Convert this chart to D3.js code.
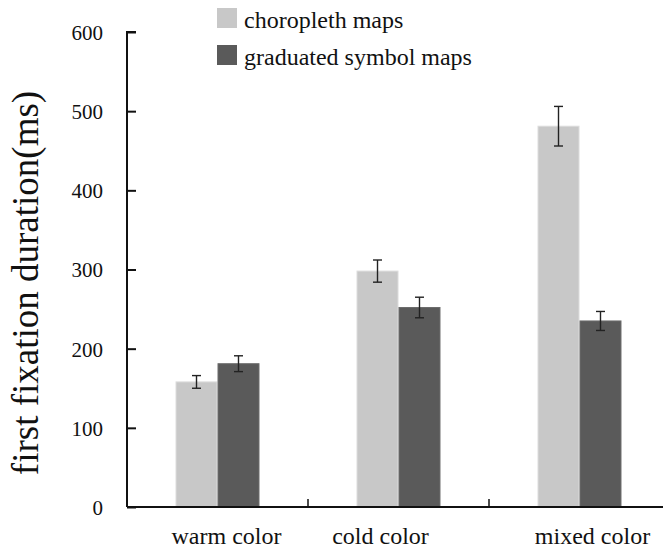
<!DOCTYPE html>
<html>
<head>
<meta charset="utf-8">
<script src="https://cdn.jsdelivr.net/npm/d3@7"></script>
<style>
  body { margin: 0; background: #fff; }
  svg text { font-family: 'Liberation Serif', 'DejaVu Serif', serif; fill: #111; }
</style>
</head>
<body>
<script>
// data
var categories = ["warm color", "cold color", "mixed color"];
var series = ["choropleth maps", "graduated symbol maps"];
var choropleth = [158, 298, 481];
var choroplethErr = [8, 14, 25];
var graduated = [181, 252, 235];
var graduatedErr = [10, 13, 12];
var yTicks = [0, 100, 200, 300, 400, 500, 600];

var colors = { choropleth: "#c8c8c8", graduated: "#5a5a5a" };
var strokes = { choropleth: "#dcdcdc", graduated: "#6c6c6c" };
var serif = "'Liberation Serif', 'DejaVu Serif', serif";

var width = 663, height = 549;
var margin = { top: 32, left: 127, bottom: 42 };

var rows = categories.map(function(c, i) {
  return { cat: c,
           vals: [ { key: "choropleth", v: choropleth[i], e: choroplethErr[i] },
                   { key: "graduated", v: graduated[i], e: graduatedErr[i] } ] };
});

// scales
var x = d3.scaleBand()
  .domain(categories)
  .range([margin.left, margin.left + 3 * 181])
  .paddingInner(0.536)
  .paddingOuter(0.268);

var xSub = d3.scaleBand()
  .domain(["choropleth", "graduated"])
  .range([0, x.bandwidth()]);

var y = d3.scaleLinear()
  .domain([0, 600])
  .range([height - margin.bottom, margin.top]);

var svg = d3.select("body")
  .append("svg")
  .attr("width", width)
  .attr("height", height);

// bars
var group = svg.append("g")
  .selectAll("g")
  .data(rows)
  .enter()
  .append("g")
  .attr("transform", d => `translate(${x(d.cat)},0)`);

group.selectAll("rect")
  .data(d => d.vals)
  .enter()
  .append("rect")
  .attr("x", d => xSub(d.key) + 0.5)
  .attr("y", d => y(d.v))
  .attr("width", xSub.bandwidth() - 1)
  .attr("height", d => y(0) - y(d.v))
  .style("fill", d => colors[d.key])
  .style("stroke", d => strokes[d.key])
  .style("stroke-width", 1);

// error bars
var err = group.selectAll("g.err")
  .data(d => d.vals)
  .enter()
  .append("g")
  .attr("class", "err")
  .style("stroke", "#222")
  .style("stroke-width", 1.4);

var cx = d => xSub(d.key) + xSub.bandwidth() / 2;
err.append("line")
  .attr("x1", cx).attr("x2", cx)
  .attr("y1", d => y(d.v + d.e)).attr("y2", d => y(d.v - d.e));
err.append("line")
  .attr("x1", d => cx(d) - 4.5).attr("x2", d => cx(d) + 4.5)
  .attr("y1", d => y(d.v + d.e)).attr("y2", d => y(d.v + d.e));
err.append("line")
  .attr("x1", d => cx(d) - 4.5).attr("x2", d => cx(d) + 4.5)
  .attr("y1", d => y(d.v - d.e)).attr("y2", d => y(d.v - d.e));

// y axis
var yAxis = g => g
  .attr("transform", `translate(${margin.left},0)`)
  .call(d3.axisRight(y)
    .tickValues(yTicks)
    .tickSize(9)
    .tickFormat(""))
  .call(g => g.select(".domain").attr("d", `M9,${y(600)}H0V${y(0)}`))
  .call(g => g.selectAll("path, line").style("stroke", "#111").style("stroke-width", 2));

svg.append("g").call(yAxis);

svg.append("g")
  .selectAll("text")
  .data(yTicks)
  .enter()
  .append("text")
  .attr("x", 103)
  .attr("y", d => y(d))
  .attr("dy", "0.38em")
  .attr("text-anchor", "end")
  .attr("font-family", serif)
  .style("font-size", "21px")
  .text(d => d);

// x axis
var xBounds = [x.step() + margin.left, 2 * x.step() + margin.left];
svg.append("line")
  .attr("x1", margin.left).attr("x2", width)
  .attr("y1", y(0)).attr("y2", y(0))
  .style("stroke", "#111").style("stroke-width", 2);

svg.append("g")
  .selectAll("line")
  .data(xBounds)
  .enter()
  .append("line")
  .attr("x1", d => d).attr("x2", d => d)
  .attr("y1", y(0)).attr("y2", y(0) - 8)
  .style("stroke", "#111").style("stroke-width", 1.5);

var labelShift = [9, -18, 13];
svg.append("g")
  .selectAll("text")
  .data(categories)
  .enter()
  .append("text")
  .attr("x", (d, i) => x(d) + x.bandwidth() / 2 + labelShift[i])
  .attr("y", 544)
  .attr("text-anchor", "middle")
  .attr("font-family", serif)
  .style("font-size", "24px")
  .text(d => d);

// y label
svg.append("text")
  .attr("transform", "translate(38,283) rotate(-90)")
  .attr("text-anchor", "middle")
  .attr("font-family", serif)
  .style("font-size", "37px")
  .text("first fixation duration(ms)");

// legend
var legend = svg.append("g")
  .selectAll("g")
  .data(series)
  .enter()
  .append("g")
  .attr("transform", (d, i) => `translate(217,${8 + i * 37})`);

legend.append("rect")
  .attr("width", 20)
  .attr("height", 20)
  .style("fill", (d, i) => i == 0 ? colors.choropleth : colors.graduated);

legend.append("text")
  .attr("x", 27)
  .attr("y", 20)
  .attr("font-family", serif)
  .style("font-size", "24px")
  .text(d => d);
</script>
</body>
</html>
